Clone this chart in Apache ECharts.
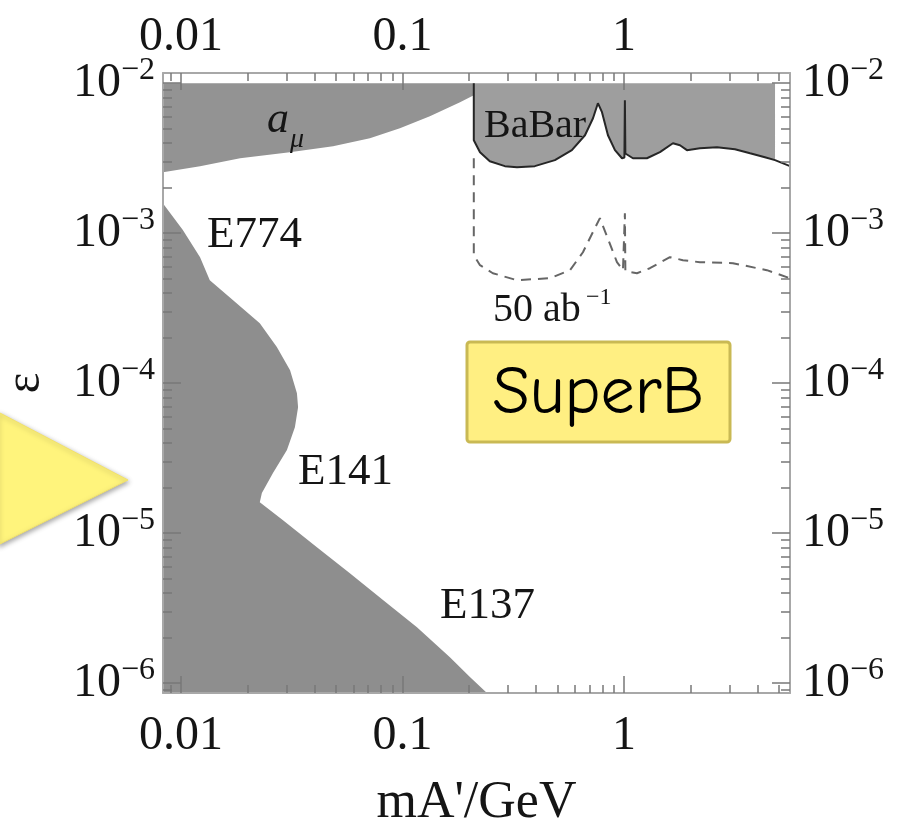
<!DOCTYPE html>
<html>
<head>
<meta charset="utf-8">
<script src="https://cdn.jsdelivr.net/npm/echarts@6/dist/echarts.min.js"></script>
<style>
html, body { margin: 0; padding: 0; background: #ffffff; }
#chart { width: 911px; height: 827px; }
</style>
</head>
<body>
<div id="chart"></div>
<script>
// Axis ranges (dark photon mass in GeV, kinetic mixing epsilon)
const massMin = 0.0083, massMax = 5.62;
const epsMin = 8.6e-7, epsMax = 0.0117;
const regionTop = 1e-2;

// Tick values
const massTicks = [0.01, 0.1, 1];
const massMinorTicks = [0.009, 0.02, 0.03, 0.04, 0.05, 0.06, 0.07, 0.08, 0.09,
  0.2, 0.3, 0.4, 0.5, 0.6, 0.7, 0.8, 0.9, 2, 3, 4, 5];
const epsTicks = [1e-6, 1e-5, 1e-4, 1e-3, 1e-2];
const epsMinorTicks = [9e-7,
  2e-6, 3e-6, 4e-6, 5e-6, 6e-6, 7e-6, 8e-6, 9e-6,
  2e-5, 3e-5, 4e-5, 5e-5, 6e-5, 7e-5, 8e-5, 9e-5,
  2e-4, 3e-4, 4e-4, 5e-4, 6e-4, 7e-4, 8e-4, 9e-4,
  2e-3, 3e-3, 4e-3, 5e-3, 6e-3, 7e-3, 8e-3, 9e-3];

// Muon g-2 excluded band: lower edge [mass, eps]
const amuBoundary = [
  [0.0083, 2.55e-3], [0.0122, 2.80e-3], [0.0185, 3.16e-3], [0.031, 3.47e-3],
  [0.0486, 3.80e-3], [0.0713, 4.30e-3], [0.0974, 5.01e-3], [0.133, 6.03e-3],
  [0.182, 7.47e-3], [0.21, 8.3e-3]
];

// Beam dump exclusions (E774, E141, E137): outer edge from top-left to the bottom axis
const beamDumpBoundary = [
  [0.0083, 1.58e-3], [0.0102, 1.05e-3], [0.0122, 6.92e-4], [0.0135, 4.86e-4],
  [0.0172, 3.58e-4], [0.0227, 2.51e-4], [0.0271, 1.74e-4], [0.0311, 1.22e-4],
  [0.0334, 8.58e-5], [0.0338, 6.92e-5], [0.0327, 5.09e-5], [0.0301, 3.58e-5],
  [0.0260, 2.51e-5], [0.0232, 1.85e-5], [0.0227, 1.61e-5], [0.0289, 1.22e-5],
  [0.0411, 8.06e-6], [0.0579, 5.41e-6], [0.0817, 3.58e-6], [0.1163, 2.36e-6],
  [0.1638, 1.49e-6], [0.2017, 1.10e-6], [0.2407, 8.6e-7]
];

// BaBar limit
const babarLimit = [
  [0.21, 1e-2], [0.21, 4.17e-3], [0.224, 3.47e-3], [0.248, 3.02e-3], [0.290, 2.80e-3],
  [0.329, 2.75e-3], [0.396, 2.80e-3], [0.488, 3.07e-3], [0.582, 3.58e-3], [0.667, 4.50e-3],
  [0.725, 5.84e-3], [0.763, 7.36e-3], [0.796, 6.41e-3], [0.847, 4.50e-3], [0.911, 3.58e-3],
  [0.980, 3.16e-3], [1.005, 3.2e-3], [1.01, 7.7e-3], [1.015, 3.4e-3], [1.098, 3.16e-3],
  [1.27, 3.16e-3], [1.454, 3.47e-3], [1.664, 3.98e-3], [1.79, 3.86e-3], [1.925, 3.58e-3],
  [2.203, 3.69e-3], [2.63, 3.74e-3], [3.17, 3.63e-3], [3.71, 3.41e-3], [4.33, 3.21e-3],
  [4.81, 3.07e-3], [5.62, 2.80e-3]
];
const babarFillEnd = 4.81;

// SuperB projected reach, 50 ab^-1
const superB50 = [
  [0.21, 3.16e-3], [0.21, 7.13e-4], [0.224, 6.12e-4], [0.256, 5.41e-4], [0.329, 4.86e-4],
  [0.463, 5.01e-4], [0.571, 5.67e-4], [0.653, 7.47e-4], [0.725, 1.02e-3], [0.779, 1.26e-3],
  [0.838, 9.55e-4], [0.930, 6.41e-4], [0.990, 5.67e-4], [1.005, 5.6e-4], [1.01, 1.36e-3],
  [1.015, 5.6e-4], [1.145, 5.41e-4], [1.31, 5.84e-4], [1.613, 6.92e-4], [1.846, 6.61e-4],
  [2.203, 6.41e-4], [3.105, 6.31e-4], [4.42, 5.67e-4], [5.62, 5.01e-4]
];

const serif = '"Liberation Serif", "Times New Roman", "DejaVu Serif", serif';
const inkColor = '#151515';
const frameColor = '#a8a8a8';
const tickColor = '#787878';

function massLabel(v) {
  return String(+Number(v).toPrecision(3));
}
function epsLabel(v) {
  return '{b|10}{e|\u2212' + Math.round(-Math.log10(v)) + '}';
}
const powerRich = {
  b: { fontSize: 48, fontFamily: serif, color: inkColor, lineHeight: 58 },
  e: { fontSize: 32, fontFamily: serif, color: inkColor, lineHeight: 32, verticalAlign: 'top' }
};

function massAxis(position, major, withName) {
  const ax = {
    type: 'log', logBase: 10, position: position, min: massMin, max: massMax, z: 10,
    axisLine: { show: major, lineStyle: { color: frameColor, width: 2 } },
    axisTick: {
      show: true, inside: true, length: major ? 17 : 8,
      customValues: major ? massTicks : massMinorTicks,
      lineStyle: { color: tickColor, width: 1.5 }
    },
    axisLabel: major ? {
      show: true, customValues: massTicks, formatter: massLabel,
      color: inkColor, fontFamily: serif, fontSize: 48, margin: position === 'top' ? 12 : 19
    } : { show: false },
    splitLine: { show: false },
    minorTick: { show: false }
  };
  if (withName) {
    ax.name = "mA'/GeV";
    ax.nameLocation = 'middle';
    ax.nameGap = 84;
    ax.nameTextStyle = { fontFamily: serif, fontSize: 52, color: inkColor };
  }
  return ax;
}

function epsAxis(position, major, withName) {
  const ax = {
    type: 'log', logBase: 10, position: position, min: epsMin, max: epsMax, z: 10,
    axisLine: { show: major, lineStyle: { color: frameColor, width: 2 } },
    axisTick: {
      show: true, inside: true, length: major ? 18 : 9,
      customValues: major ? epsTicks : epsMinorTicks,
      lineStyle: { color: tickColor, width: 1.5 }
    },
    axisLabel: major ? {
      show: true, customValues: epsTicks, formatter: epsLabel,
      rich: powerRich, margin: position === 'left' ? 8 : 12
    } : { show: false },
    splitLine: { show: false },
    minorTick: { show: false }
  };
  if (withName) {
    ax.name = '\u03b5';
    ax.nameLocation = 'middle';
    ax.nameGap = 112;
    ax.nameTextStyle = { fontFamily: serif, fontSize: 50, color: inkColor };
  }
  return ax;
}

function regionSeries(name, points, color, z) {
  return {
    type: 'custom', name: name, xAxisIndex: 0, yAxisIndex: 0, clip: true, silent: true, z: z,
    encode: { x: 0, y: 1 },
    data: points,
    renderItem: function (params, api) {
      if (params.dataIndex !== 0) return null;
      return {
        type: 'polygon',
        shape: { points: points.map(function (p) { return api.coord(p); }) },
        style: { fill: color, stroke: null }
      };
    }
  };
}

const amuRegion = amuBoundary.concat([[0.21, regionTop], [massMin, regionTop]]);
const beamDumpRegion = beamDumpBoundary.concat([[massMin, epsMin]]);
const babarRegion = babarLimit.filter(function (p) { return p[0] <= babarFillEnd; })
  .concat([[babarFillEnd, regionTop]]);

const chart = echarts.init(document.getElementById('chart'), null, { renderer: 'canvas' });

const textStyle = function (text, x, y, size, extra) {
  return Object.assign({
    text: text, x: x, y: y, fill: inkColor,
    font: size + 'px ' + serif, align: 'left', verticalAlign: 'middle'
  }, extra || {});
};

chart.setOption({
  animation: false,
  backgroundColor: '#ffffff',
  grid: { left: 163, right: 121, top: 73, bottom: 134, outerBoundsMode: 'none', containLabel: false },
  xAxis: [
    massAxis('bottom', true, true),
    massAxis('top', true, false),
    massAxis('bottom', false, false),
    massAxis('top', false, false)
  ],
  yAxis: [
    epsAxis('left', true, true),
    epsAxis('right', true, false),
    epsAxis('left', false, false),
    epsAxis('right', false, false)
  ],
  series: [
    regionSeries('a_mu', amuRegion, '#939393', 1),
    regionSeries('beam dump', beamDumpRegion, '#8e8e8e', 1),
    regionSeries('BaBar', babarRegion, '#9e9e9e', 1),
    {
      type: 'line', name: 'BaBar limit', data: babarLimit, xAxisIndex: 0, yAxisIndex: 0,
      symbol: 'none', silent: true, z: 3, clip: true,
      lineStyle: { color: '#262626', width: 2 }
    },
    {
      type: 'line', name: '50 ab-1', data: superB50, xAxisIndex: 0, yAxisIndex: 0,
      symbol: 'none', silent: true, z: 3, clip: true,
      lineStyle: { color: '#666666', width: 2, type: [10, 7] }
    }
  ],
  graphic: [
    { type: 'text', z: 20, style: textStyle('a', 267, 120, 44, { font: 'italic 44px ' + serif }) },
    { type: 'text', z: 20, style: textStyle('\u03bc', 290, 140, 28, { font: 'italic 28px ' + serif }) },
    { type: 'text', z: 20, style: textStyle('BaBar', 484, 126, 40) },
    { type: 'text', z: 20, style: textStyle('E774', 207, 235, 45) },
    { type: 'text', z: 20, style: textStyle('E141', 298, 472, 45) },
    { type: 'text', z: 20, style: textStyle('E137', 440, 606, 45) },
    { type: 'text', z: 20, style: textStyle('50 ab', 493, 310, 40) },
    { type: 'text', z: 20, style: textStyle('\u22121', 586, 298, 24) },
    {
      type: 'polygon', z: 20,
      shape: { points: [[-2, 412], [128, 480], [-2, 545]] },
      style: { fill: '#fff47c', stroke: '#f3e26a', lineWidth: 1,
        shadowBlur: 5, shadowOffsetX: 1, shadowOffsetY: 2, shadowColor: 'rgba(0,0,0,0.35)' }
    },
    {
      type: 'rect', z: 20,
      shape: { x: 467, y: 342, width: 263, height: 100, r: 3 },
      style: { fill: '#ffef82', stroke: '#c9b954', lineWidth: 3 }
    },
    {
      type: 'text', z: 21,
      style: {
        text: 'SuperB', x: 598, y: 394, fill: '#000000',
        font: '68px "Comic Sans MS", "Comic Neue", Lato, "Noto Sans", sans-serif',
        align: 'center', verticalAlign: 'middle'
      }
    }
  ]
});
</script>
</body>
</html>
